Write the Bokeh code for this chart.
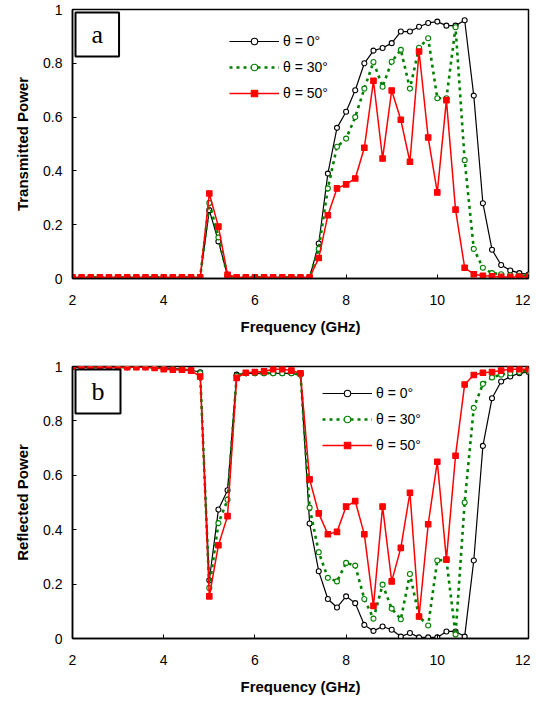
from bokeh.plotting import figure
from bokeh.models import (Legend, LegendItem, Label, FixedTicker, CustomJSTickFormatter,
                          Range1d, Column)
from bokeh.embed import file_html
from bokeh.resources import INLINE

# ---------------- data ----------------
freq = [2.0, 2.2, 2.4, 2.6, 2.8, 3.0, 3.2, 3.4, 3.6, 3.8,
        4.0, 4.2, 4.4, 4.6, 4.8, 5.0, 5.2, 5.4, 5.6, 5.8,
        6.0, 6.2, 6.4, 6.6, 6.8, 7.0, 7.2, 7.4, 7.6, 7.8,
        8.0, 8.2, 8.4, 8.6, 8.8, 9.0, 9.2, 9.4, 9.6, 9.8,
        10.0, 10.2, 10.4, 10.6, 10.8, 11.0, 11.2, 11.4, 11.6, 11.8, 12.0]

series_labels = ["θ = 0°", "θ = 30°", "θ = 50°"]

# Transmitted power
trans_0 = [0.004, 0.004, 0.004, 0.004, 0.004, 0.004, 0.004, 0.004, 0.004, 0.004,
           0.004, 0.004, 0.004, 0.004, 0.004, 0.254, 0.138, 0.010, 0.004, 0.004,
           0.004, 0.004, 0.004, 0.004, 0.004, 0.004, 0.004, 0.130, 0.390, 0.560,
           0.620, 0.700, 0.800, 0.847, 0.857, 0.875, 0.918, 0.918, 0.936, 0.950,
           0.955, 0.940, 0.940, 0.960, 0.680, 0.280, 0.107, 0.050, 0.030, 0.020, 0.015]
trans_30 = [0.004, 0.004, 0.004, 0.004, 0.004, 0.004, 0.004, 0.004, 0.004, 0.004,
            0.004, 0.004, 0.004, 0.004, 0.004, 0.281, 0.153, 0.010, 0.004, 0.004,
            0.004, 0.004, 0.004, 0.004, 0.004, 0.004, 0.004, 0.110, 0.335, 0.490,
            0.520, 0.600, 0.706, 0.805, 0.713, 0.806, 0.850, 0.706, 0.858, 0.893,
            0.670, 0.670, 0.934, 0.440, 0.110, 0.040, 0.020, 0.016, 0.012, 0.010, 0.010]
trans_50 = [0.004, 0.004, 0.004, 0.004, 0.004, 0.004, 0.004, 0.004, 0.004, 0.004,
            0.004, 0.004, 0.004, 0.004, 0.004, 0.316, 0.193, 0.014, 0.004, 0.004,
            0.004, 0.004, 0.004, 0.004, 0.004, 0.004, 0.004, 0.076, 0.235, 0.335,
            0.350, 0.372, 0.486, 0.735, 0.446, 0.699, 0.590, 0.434, 0.844, 0.524,
            0.320, 0.663, 0.256, 0.040, 0.016, 0.010, 0.008, 0.006, 0.006, 0.006, 0.006]

# Reflected power
refl_0 = [0.997, 0.997, 0.997, 0.997, 0.997, 0.997, 0.997, 0.997, 0.997, 0.997,
          0.996, 0.992, 0.990, 0.987, 0.979, 0.214, 0.474, 0.545, 0.970, 0.975,
          0.975, 0.975, 0.975, 0.975, 0.975, 0.973, 0.423, 0.247, 0.145, 0.114,
          0.155, 0.130, 0.050, 0.028, 0.044, 0.032, 0.007, 0.020, 0.004, 0.004,
          0.004, 0.026, 0.026, 0.007, 0.287, 0.708, 0.883, 0.945, 0.963, 0.975, 0.980]
refl_30 = [0.997, 0.997, 0.997, 0.997, 0.997, 0.997, 0.997, 0.997, 0.997, 0.997,
           0.995, 0.991, 0.989, 0.986, 0.975, 0.186, 0.424, 0.510, 0.965, 0.975,
           0.975, 0.975, 0.975, 0.975, 0.975, 0.970, 0.481, 0.317, 0.223, 0.210,
           0.278, 0.268, 0.145, 0.073, 0.198, 0.110, 0.071, 0.237, 0.080, 0.048,
           0.287, 0.289, 0.015, 0.500, 0.848, 0.936, 0.960, 0.970, 0.975, 0.980, 0.985]
refl_50 = [1.000, 1.000, 1.000, 1.000, 0.997, 0.997, 0.997, 0.997, 0.997, 0.995,
           0.990, 0.988, 0.988, 0.985, 0.963, 0.155, 0.343, 0.450, 0.958, 0.977,
           0.980, 0.982, 0.990, 0.990, 0.985, 0.975, 0.585, 0.460, 0.383, 0.392,
           0.485, 0.505, 0.383, 0.120, 0.485, 0.210, 0.333, 0.536, 0.081, 0.420,
           0.650, 0.290, 0.672, 0.934, 0.969, 0.977, 0.980, 0.985, 0.990, 0.990, 0.990]

x_ticks = [2, 4, 6, 8, 10, 12]
y_ticks = [0, 0.2, 0.4, 0.6, 0.8, 1]

# ---------------- styles ----------------
STYLES = [
    dict(line_color="black", line_width=1.2, line_dash="solid",
         marker="circle", size=5, fill_color="white", mline="black"),
    dict(line_color="#008000", line_width=2.6, line_dash="3 4",
         marker="circle", size=5, fill_color="white", mline="#008000"),
    dict(line_color="#ff0000", line_width=1.5, line_dash="solid",
         marker="square", size=5.5, fill_color="#ff0000", mline="#ff0000"),
]
FONT = "Liberation Sans"


def make_fig(height, b_top, b_bottom, ylabel, ys, tag, legend_loc):
    p = figure(width=530, height=height, x_range=Range1d(2, 12), y_range=Range1d(0, 1),
               output_backend="svg", toolbar_location=None,
               min_border_left=72, min_border_right=2,
               min_border_top=b_top, min_border_bottom=b_bottom)
    p.grid.visible = False
    p.outline_line_color = "black"
    p.outline_line_width = 1.5
    p.border_fill_color = "white"

    items = []
    for lab, y, st in zip(series_labels, ys, STYLES):
        lr = p.line(freq, y, line_color=st["line_color"], line_width=st["line_width"],
                    line_dash=st["line_dash"])
        sr = p.scatter(freq, y, marker=st["marker"], size=st["size"],
                       fill_color=st["fill_color"], line_color=st["mline"], line_width=1.1)
        items.append(LegendItem(label=lab, renderers=[lr, sr]))

    legend = Legend(items=items, location=legend_loc, glyph_width=50, glyph_height=16,
                    label_height=16, spacing=10, padding=0, margin=0, label_standoff=4,
                    border_line_alpha=0, background_fill_alpha=0,
                    label_text_font=FONT, label_text_font_size="14px",
                    label_text_color="black")
    p.add_layout(legend)

    p.xaxis.ticker = FixedTicker(ticks=x_ticks)
    p.yaxis.ticker = FixedTicker(ticks=y_ticks)
    p.yaxis.formatter = CustomJSTickFormatter(code="return tick.toFixed(1).replace(/\\.0$/, '');")
    for ax in (p.xaxis, p.yaxis):
        ax.axis_line_width = 1.5
        ax.axis_line_color = "black"
        ax.major_tick_in = 4
        ax.major_tick_out = 0
        ax.major_tick_line_color = "black"
        ax.minor_tick_line_color = None
        ax.major_label_text_font = FONT
        ax.major_label_text_font_size = "14px"
        ax.major_label_text_color = "black"
        ax.axis_label_text_font = FONT
        ax.axis_label_text_font_size = "15px"
        ax.axis_label_text_font_style = "bold"
        ax.axis_label_text_color = "black"
    p.xaxis.axis_label = "Frequency (GHz)"
    p.xaxis.major_label_standoff = 16
    p.xaxis.axis_label_standoff = 10
    p.yaxis.axis_label = ylabel
    p.yaxis.major_label_standoff = 10
    p.yaxis.axis_label_standoff = 9

    box = Label(x=2, y=1, x_units="data", y_units="data", x_offset=3, y_offset=-3,
                text=tag, text_font="Liberation Serif", text_font_size="26px",
                text_align="left", text_baseline="top", text_color="black",
                border_line_color="black", border_line_width=2,
                background_fill_color="white",
                padding=dict(left=16, right=16, top=7, bottom=8))
    p.add_layout(box)
    return p


p1 = make_fig(344, 9, 66, "Transmitted Power", [trans_0, trans_30, trans_50], "a", (157, 177))
p2 = make_fig(358, 22, 64, "Reflected Power", [refl_0, refl_30, refl_50], "b", (250, 185))

layout = Column(children=[p1, p2], spacing=0)
open("out.html", "w").write(file_html(layout, INLINE))
